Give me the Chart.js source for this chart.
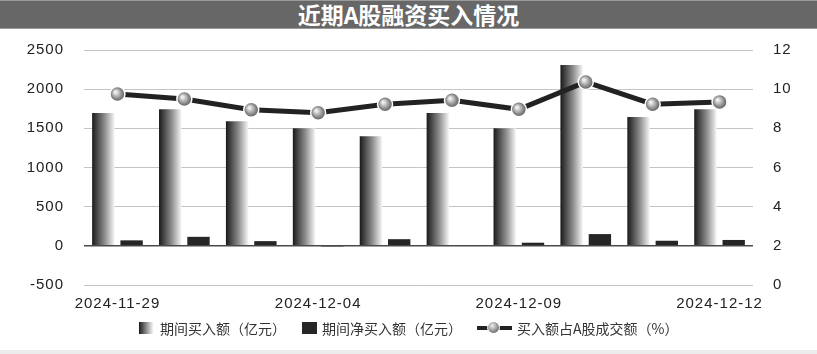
<!DOCTYPE html>
<html>
<head>
<meta charset="utf-8">
<script src="https://cdn.jsdelivr.net/npm/chart.js@4.4.1/dist/chart.umd.min.js"></script>
<style>
  body { margin: 0; background: #fff; }
  #wrap { position: relative; width: 817px; height: 354px; overflow: hidden; font-family: "Noto Sans CJK SC", sans-serif; }
  #title {
    position: absolute; left: 0; top: 0; width: 817px; height: 27px;
    background: #676767; border-top: 1px solid #9a9a9a; border-bottom: 1px solid #9a9a9a;
    color: #fff; font-weight: bold; font-size: 23px; line-height: 27px; text-align: center;
  }
  #chart { position: absolute; left: 0; top: 29px; }
  .lg { position: absolute; font-size: 14px; color: #333; top: 319px; line-height: 18px; white-space: nowrap; }
  .box { position: absolute; top: 322px; height: 12px; }
  #foot { position: absolute; left: 0; top: 350px; width: 817px; height: 4px; background: #ececec; }
</style>
</head>
<body>
<div id="wrap">
  <div id="title">近期A股融资买入情况</div>
  <canvas id="chart" width="817" height="290"></canvas>

  <div class="box" style="left:139px;width:14px;background:linear-gradient(to right,#1a1a1a,#f5f5f5);"></div>
  <div class="lg" style="left:160px;">期间买入额（亿元）</div>
  <div class="box" style="left:302px;width:15px;background:#262626;"></div>
  <div class="lg" style="left:322px;">期间净买入额（亿元）</div>
  <div class="box" style="left:477px;top:326px;width:35px;height:4px;background:#222;"></div>
  <div class="box" style="left:487px;top:321px;width:11px;height:11px;border-radius:50%;border:1px solid #fff;background:radial-gradient(circle at 40% 35%,#eee,#888 60%,#555);"></div>
  <div class="lg" style="left:517px;">买入额占A股成交额（%）</div>
  <div id="foot"></div>
</div>
<script>
/* =============================
   DATA
============================= */
const dates = ["2024-11-29", "2024-12-02", "2024-12-03", "2024-12-04", "2024-12-05",
               "2024-12-06", "2024-12-09", "2024-12-10", "2024-12-11", "2024-12-12"];
const buyAmount = [1695, 1745, 1590, 1500, 1400, 1695, 1500, 2310, 1645, 1745];
const netBuy = [70, 115, 60, -15, 85, -10, 40, 150, 65, 75];
const buyShare = [9.75, 9.5, 8.95, 8.8, 9.23, 9.43, 8.97, 10.37, 9.23, 9.35];

const leftTicks = { min: -500, max: 2500, step: 500 };
const rightTicks = { min: 0, max: 12, step: 2 };

/* =============================
   GRADIENT FILLS
============================= */
const shading = {
  id: "shading",
  beforeDraw(chart) {
    chart.ctx.letterSpacing = "1px";
  },
  beforeDatasetsDraw(chart) {
    const ctx = chart.ctx;
    chart.getDatasetMeta(0).data.forEach(el => {
      const g = ctx.createLinearGradient(el.x - el.width / 2, 0, el.x + el.width / 2, 0);
      g.addColorStop(0, "#1a1a1a");
      g.addColorStop(0.55, "#8a8a8a");
      g.addColorStop(1, "#f6f6f6");
      el.options.backgroundColor = g;
    });
    chart.getDatasetMeta(2).data.forEach(el => {
      const g = ctx.createRadialGradient(el.x - 2, el.y - 2, 1, el.x, el.y, 8);
      g.addColorStop(0, "#eeeeee");
      g.addColorStop(0.6, "#8c8c8c");
      g.addColorStop(1, "#555555");
      el.options.backgroundColor = g;
    });
  }
};

const font = { family: "'Liberation Sans', Arial, sans-serif", size: 15 };

// keep tick padding from pushing the plot area down
const fitY = w => s => { s.width = w; s.paddingTop = 0; s.paddingBottom = 0; };

new Chart(document.getElementById("chart"), {
  type: "bar",
  data: {
    labels: dates,
    datasets: [
      {
        label: "期间买入额（亿元）",
        data: buyAmount,
        backgroundColor: () => "#888",
        yAxisID: "y",
        order: 2,
        categoryPercentage: 0.846,
        barPercentage: 0.79
      },
      {
        label: "期间净买入额（亿元）",
        data: netBuy,
        backgroundColor: "#262626",
        yAxisID: "y",
        order: 2,
        categoryPercentage: 0.846,
        barPercentage: 0.79
      },
      {
        type: "line",
        label: "买入额占A股成交额（%）",
        data: buyShare,
        yAxisID: "y1",
        order: 0,
        borderColor: "#222",
        borderWidth: 5,
        tension: 0,
        pointRadius: 7.5,
        pointBorderColor: "#fff",
        pointBorderWidth: 1.5,
        pointBackgroundColor: () => "#888"
      }
    ]
  },
  options: {
    responsive: false,
    animation: false,
    layout: { padding: { top: 21, bottom: 0, left: 0, right: 0 } },
    plugins: { legend: { display: false }, tooltip: { enabled: false } },
    scales: {
      x: {
        grid: { display: false, drawTicks: false },
        border: { display: false },
        ticks: {
          autoSkip: false,
          maxRotation: 0,
          padding: 10,
          color: "#222",
          font,
          callback: (v, i) => (i % 3 === 0 ? dates[i] : "")
        },
        afterFit: s => { s.height = 34; }
      },
      y: {
        position: "left",
        min: leftTicks.min,
        max: leftTicks.max,
        ticks: { stepSize: leftTicks.step, padding: 20, color: "#222", font, callback: v => String(v) },
        grid: {
          drawTicks: false,
          color: c => (c.tick && c.tick.value === 0 ? "#4a4a4a" : "#c4c4c4"),
          lineWidth: c => (c.tick && c.tick.value === 0 ? 1.5 : 1)
        },
        border: { display: false },
        afterFit: fitY(84)
      },
      y1: {
        position: "right",
        min: rightTicks.min,
        max: rightTicks.max,
        ticks: { stepSize: rightTicks.step, padding: 20, color: "#222", font },
        grid: { display: false, drawTicks: false },
        border: { display: false },
        afterFit: fitY(64)
      }
    }
  },
  plugins: [shading]
});
</script>
</body>
</html>
